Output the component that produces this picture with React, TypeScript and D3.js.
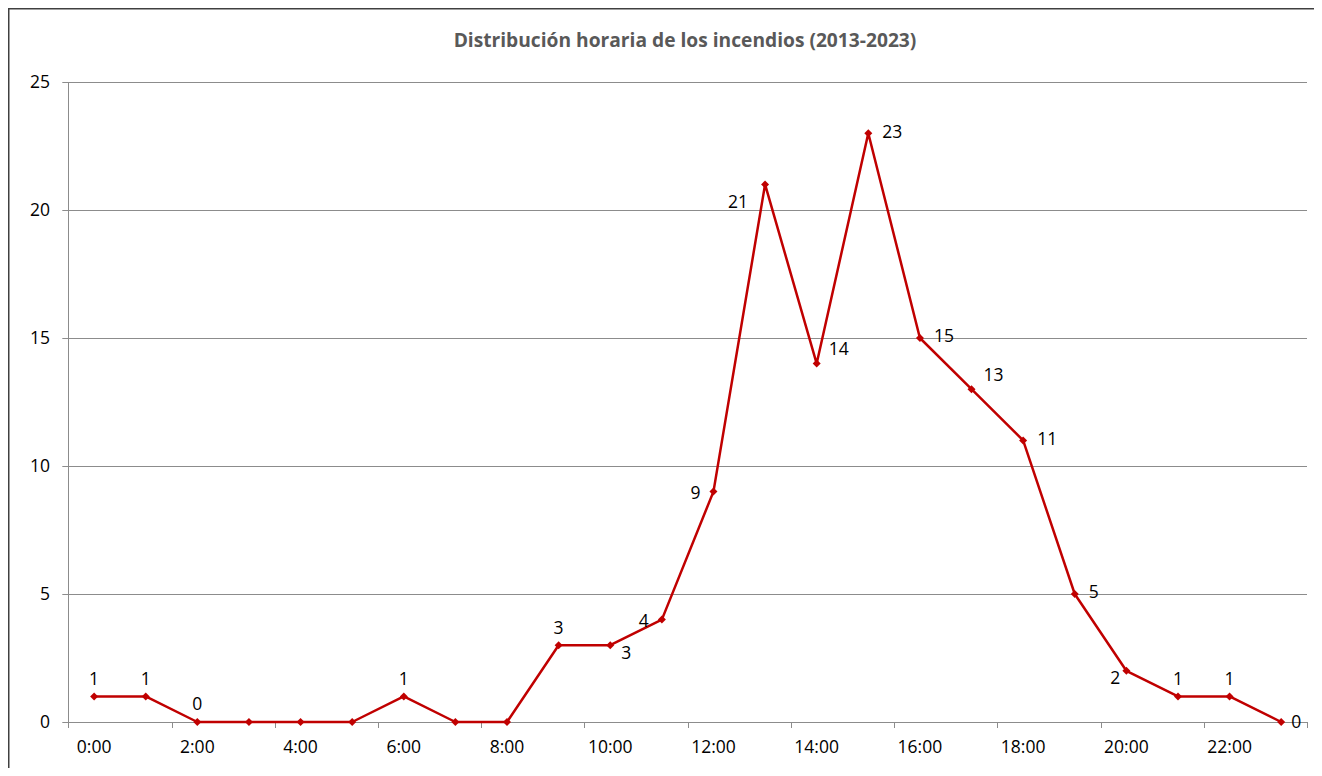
import React from "react";
import * as d3 from "d3";

const hours = ["0:00","1:00","2:00","3:00","4:00","5:00","6:00","7:00","8:00","9:00","10:00","11:00","12:00","13:00","14:00","15:00","16:00","17:00","18:00","19:00","20:00","21:00","22:00","23:00"];
const fires = [1,1,0,0,0,0,1,0,0,3,3,4,9,21,14,23,15,13,11,5,2,1,1,0];
// label placement per point: t=top, r=right, l=left, br=below-right, bl=below-left, tr=top-right, lb=left-below, n=none
const labelPlacement = ["t","t","t","n","n","n","t","n","n","t","br","l","l","bl","tr","r","r","tr","r","r","lb","t","t","r0"];
const yTicks = [0,5,10,15,20,25];
const title = "Distribución horaria de los incendios (2013-2023)";

const W = 1306, H = 760;
const left = 60.3, right = 1299, top = 74, bottom = 714;
const FONT = "'Open Sans', Lato, sans-serif";

const OFFSETS: Record<string, { dx: number; dy: number; a: string }> = {
  t: { dx: 0, dy: -18, a: "middle" },
  r: { dx: 14, dy: -2, a: "start" },
  r0: { dx: 10, dy: 0, a: "start" },
  l: { dx: -13, dy: 1, a: "end" },
  br: { dx: 11, dy: 7, a: "start" },
  bl: { dx: -17, dy: 17, a: "end" },
  tr: { dx: 12, dy: -15, a: "start" },
  lb: { dx: -6, dy: 7, a: "end" },
};

export default function App() {
  const x = d3.scaleBand<string>().domain(hours).range([left, right]).paddingInner(0).paddingOuter(0);
  const y = d3.scaleLinear().domain([0, 25]).range([bottom, top]);
  const cx = (i: number) => (x(hours[i]) as number) + x.bandwidth() / 2;
  const line = d3.line<number>().x((_, i) => cx(i)).y((d) => y(d));
  const bw = x.bandwidth();

  return (
    <svg width={W} height={H} style={{ display: "block" }}>
      <rect x={0} y={0} width={W} height={H} fill="#fff" />
      <rect x={0.75} y={0.75} width={W + 100} height={H + 100} fill="none" stroke="#404040" strokeWidth={1.5} />
      <text x={677} y={39} textAnchor="middle" fontFamily={FONT} fontWeight="bold" fontSize={19.2} fill="#595959">{title}</text>
      {yTicks.map((t) => (
        <g key={t}>
          <line x1={left - 6} x2={right} y1={Math.round(y(t)) + 0.5} y2={Math.round(y(t)) + 0.5} stroke="#8c8c8c" strokeWidth={1} />
          <text x={42} y={y(t)} dy="0.36em" textAnchor="end" fontFamily={FONT} fontSize={17.5} fill="#000">{t}</text>
        </g>
      ))}
      <line x1={Math.round(left) + 0.5} x2={Math.round(left) + 0.5} y1={top} y2={bottom} stroke="#8c8c8c" strokeWidth={1} />
      {d3.range(0, hours.length + 1, 2).map((k) => {
        const xx = Math.round(left + k * bw) + 0.5;
        return <line key={k} x1={xx} x2={xx} y1={bottom} y2={bottom + 6} stroke="#8c8c8c" strokeWidth={1} />;
      })}
      {hours.map((h, i) => i % 2 === 0 ? (
        <text key={h} x={cx(i)} y={745} textAnchor="middle" fontFamily={FONT} fontSize={17.5} fill="#000">{h}</text>
      ) : null)}
      <path d={line(fires) || ""} fill="none" stroke="#C00000" strokeWidth={2.5} strokeLinejoin="round" />
      {fires.map((v, i) => {
        const px = cx(i), py = y(v);
        return <path key={i} d={`M${px},${py - 4}L${px + 4},${py}L${px},${py + 4}L${px - 4},${py}Z`} fill="#C00000" />;
      })}
      {fires.map((v, i) => {
        const o = OFFSETS[labelPlacement[i]];
        if (!o) return null;
        return <text key={i} x={cx(i) + o.dx} y={y(v) + o.dy} dy="0.36em" textAnchor={o.a as any} fontFamily={FONT} fontSize={17.5} fill="#000">{v}</text>;
      })}
    </svg>
  );
}
